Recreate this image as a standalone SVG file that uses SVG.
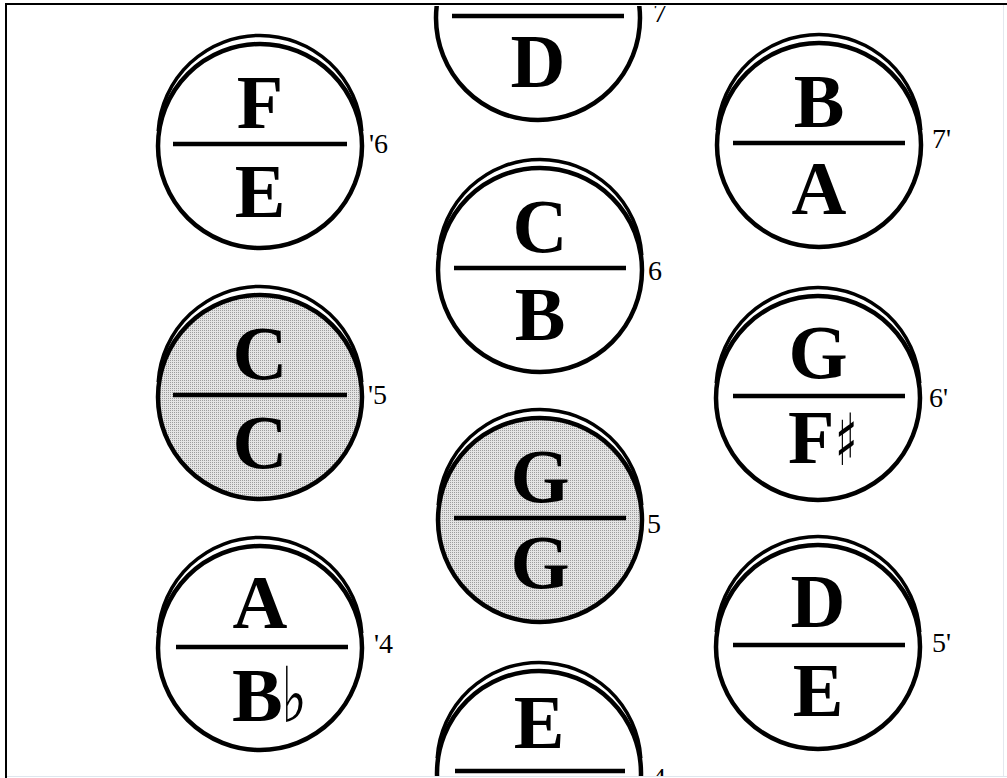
<svg xmlns="http://www.w3.org/2000/svg" width="1007" height="778" viewBox="0 0 1007 778">
<defs>
  <pattern id="dots" width="2" height="2" patternUnits="userSpaceOnUse">
    <rect width="2" height="2" fill="#e4e4e4"/>
    <rect width="1" height="1" fill="#9c9c9c"/>
  </pattern>
  <clipPath id="frame"><rect x="7" y="6" width="997" height="770"/></clipPath>
  <style>
    .key{fill:#fff;stroke:#000;stroke-width:4.5}
    .key.grey{fill:url(#dots)}
    .rim{fill:none;stroke:#000;stroke-width:3.5}
    .div{stroke:#000;stroke-width:4.5}
    .note{font-family:"Liberation Serif","Times New Roman",serif;font-weight:bold;font-size:76px;text-anchor:middle;fill:#000}
    .acc{font-family:"DejaVu Sans","DejaVu Serif",sans-serif;font-weight:normal;text-anchor:middle;fill:#000}
    .num{font-family:"Liberation Serif","Times New Roman",serif;font-size:28px;fill:#000}
  </style>
</defs>
<rect width="1007" height="778" fill="#fff"/>
<g clip-path="url(#frame)">
  <g id="n-FE">
    <circle class="key" cx="260" cy="146" r="102"/>
    <path class="rim" d="M158.2 131 A102 102 0 0 1 361.8 131"/>
    <line class="div" x1="173" y1="144" x2="347" y2="144"/>
    <text class="note" x="260" y="128">F</text>
    <text class="note" x="260" y="217">E</text>
    <text class="num" x="369" y="153">'6</text>
  </g>
  <g id="n-CC">
    <circle class="key grey" cx="260" cy="397" r="102"/>
    <path class="rim" d="M158.2 382 A102 102 0 0 1 361.8 382"/>
    <line class="div" x1="173" y1="395" x2="347" y2="395"/>
    <text class="note" x="260" y="379">C</text>
    <text class="note" x="260" y="468">C</text>
    <text class="num" x="368" y="404">'5</text>
  </g>
  <g id="n-ABb">
    <circle class="key" cx="260" cy="648" r="102"/>
    <path class="rim" d="M158.2 633 A102 102 0 0 1 361.8 633"/>
    <line class="div" x1="176" y1="647" x2="348" y2="647"/>
    <text class="note" x="260" y="628">A</text>
    <text class="note" x="232" y="721" style="text-anchor:start">B</text>
    <text class="acc" font-size="77" transform="translate(294 722) scale(0.7 1)">♭</text>
    <text class="num" x="374" y="653">'4</text>
  </g>
  <g id="n-D">
    <circle class="key" cx="538" cy="18" r="102"/>
    <path class="rim" d="M436.2 3 A102 102 0 0 1 639.8 3"/>
    <line class="div" x1="452" y1="16" x2="624" y2="16"/>
    <text class="note" x="538" y="87">D</text>
    <text class="num" x="653" y="22">7</text>
  </g>
  <g id="n-CB">
    <circle class="key" cx="540" cy="270" r="102"/>
    <path class="rim" d="M438.2 255 A102 102 0 0 1 641.8 255"/>
    <line class="div" x1="454" y1="268" x2="626" y2="268"/>
    <text class="note" x="540" y="252">C</text>
    <text class="note" x="540" y="340">B</text>
    <text class="num" x="648" y="280">6</text>
  </g>
  <g id="n-GG">
    <circle class="key grey" cx="540" cy="520" r="102"/>
    <path class="rim" d="M438.2 505 A102 102 0 0 1 641.8 505"/>
    <line class="div" x1="454" y1="518" x2="626" y2="518"/>
    <text class="note" x="540" y="502">G</text>
    <text class="note" x="540" y="588">G</text>
    <text class="num" x="647" y="533">5</text>
  </g>
  <g id="n-E">
    <circle class="key" cx="539" cy="773" r="102"/>
    <path class="rim" d="M437.2 758 A102 102 0 0 1 640.8 758"/>
    <line class="div" x1="455" y1="771" x2="625" y2="771"/>
    <text class="note" x="539" y="748">E</text>
    <text class="num" x="652" y="787">4</text>
  </g>
  <g id="n-BA">
    <circle class="key" cx="819" cy="145" r="102"/>
    <path class="rim" d="M717.2 130 A102 102 0 0 1 920.8 130"/>
    <line class="div" x1="733" y1="143" x2="905" y2="143"/>
    <text class="note" x="819" y="127">B</text>
    <text class="note" x="819" y="214">A</text>
    <text class="num" x="932" y="148">7'</text>
  </g>
  <g id="n-GFs">
    <circle class="key" cx="818" cy="398" r="102"/>
    <path class="rim" d="M716.2 383 A102 102 0 0 1 919.8 383"/>
    <line class="div" x1="733" y1="396" x2="905" y2="396"/>
    <text class="note" x="818" y="378">G</text>
    <text class="note" x="788" y="463" style="text-anchor:start">F</text>
    <text class="acc" font-size="72" transform="translate(846 465) scale(0.65 1)">♯</text>
    <text class="num" x="929" y="407">6'</text>
  </g>
  <g id="n-DE">
    <circle class="key" cx="818" cy="647" r="102"/>
    <path class="rim" d="M716.2 632 A102 102 0 0 1 919.8 632"/>
    <line class="div" x1="733" y1="645" x2="905" y2="645"/>
    <text class="note" x="818" y="627">D</text>
    <text class="note" x="818" y="716">E</text>
    <text class="num" x="932" y="652">5'</text>
  </g>
</g>
<g id="frame-lines">
  <line x1="6" y1="4" x2="6" y2="778" stroke="#000" stroke-width="2"/>
  <line x1="5" y1="4" x2="1007" y2="4" stroke="#000" stroke-width="2"/>
  <line x1="7" y1="776.5" x2="1007" y2="776.5" stroke="#dfe6ee" stroke-width="1"/>
  <line x1="1003.5" y1="5" x2="1003.5" y2="776" stroke="#e4e8ee" stroke-width="1"/>
</g>
</svg>
